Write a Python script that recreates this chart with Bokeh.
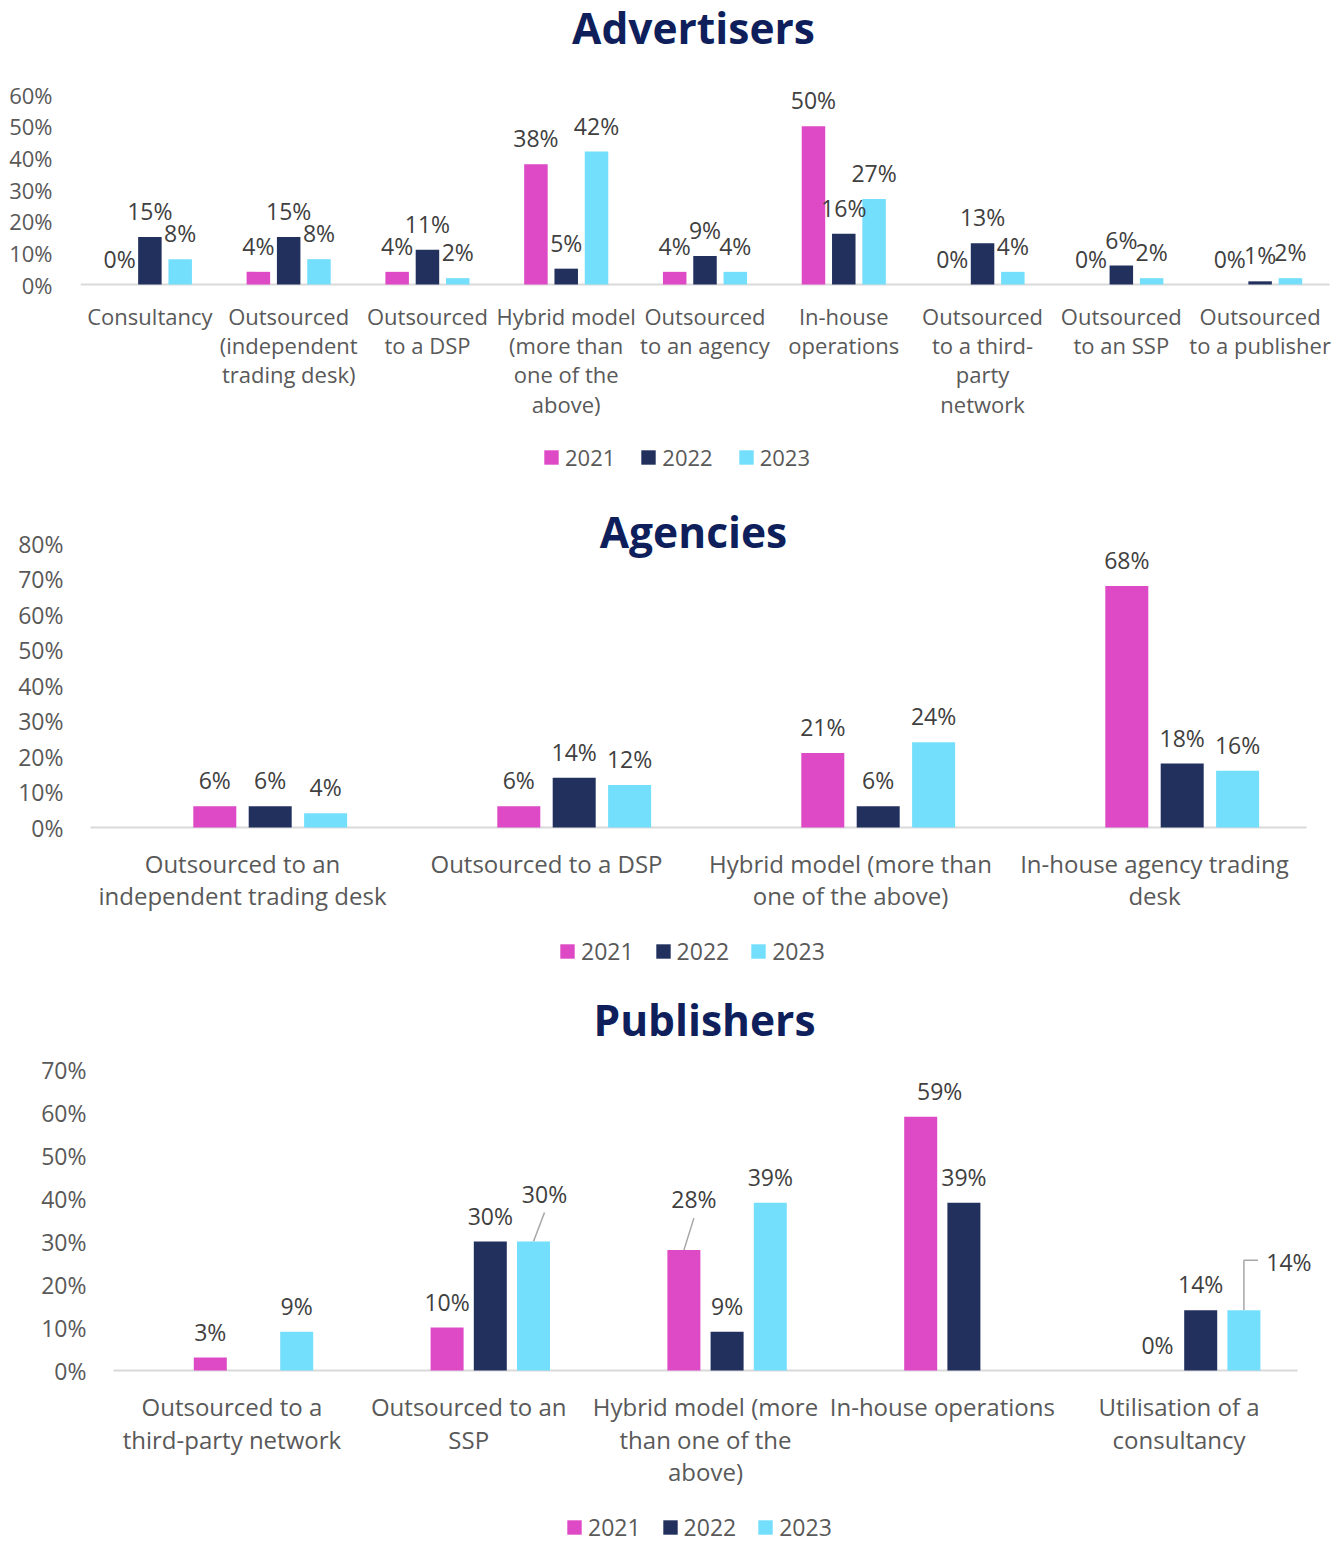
from bokeh.plotting import figure
from bokeh.models import (Range1d, ColumnDataSource, LabelSet, Label, LinearAxis,
                          Legend, LegendItem, FixedTicker, PrintfTickFormatter)
from bokeh.layouts import column
from bokeh.embed import file_html
from bokeh.resources import INLINE
from bokeh.core.properties import value

# ---------------- data ----------------
years = ["2021", "2022", "2023"]

adv_cats = ["Consultancy", "Outsourced\n(independent\ntrading desk)", "Outsourced\nto a DSP",
            "Hybrid model\n(more than\none of the\nabove)", "Outsourced\nto an agency",
            "In-house\noperations", "Outsourced\nto a third-\nparty\nnetwork",
            "Outsourced\nto an SSP", "Outsourced\nto a publisher"]
adv_2021 = [0, 4, 4, 38, 4, 50, 0, 0, 0]
adv_2022 = [15, 15, 11, 5, 9, 16, 13, 6, 1]
adv_2023 = [8, 8, 2, 42, 4, 27, 4, 2, 2]

ag_cats = ["Outsourced to an\nindependent trading desk", "Outsourced to a DSP",
           "Hybrid model (more than\none of the above)", "In-house agency trading\ndesk"]
ag_2021 = [6, 6, 21, 68]
ag_2022 = [6, 14, 6, 18]
ag_2023 = [4, 12, 24, 16]

pub_cats = ["Outsourced to a\nthird-party network", "Outsourced to an\nSSP",
            "Hybrid model (more\nthan one of the\nabove)", "In-house operations",
            "Utilisation of a\nconsultancy"]
pub_2021 = [3, 10, 28, 59, 0]
pub_2022 = [None, 30, 9, 39, 14]
pub_2023 = [9, 30, 39, None, 14]

# ---------------- style ----------------
COLORS = ["#DE49C5", "#22305E", "#74DFFC"]
FONT = "Open Sans"
AX_TEXT = "#595959"
LAB_TEXT = "#404040"
TITLE_C = "#0E1F5B"
W = 1340
L = 80          # common left border (frames aligned in the column)


def build(title, cats, series, cfg, adjust):
    n = len(cats)
    T, H = cfg["top"], cfg["H"]
    cl, cr, fb = cfg["cl"], cfg["cr"], cfg["fb"]
    pxu = cfg["pxu"]
    cat_px = (cr - cl) / n
    x0 = -(cl - L) / cat_px
    x1 = x0 + (W - L) / cat_px
    y1 = (fb - T) / pxu
    y0 = -(T + H - fb) / pxu
    p = figure(width=W, height=H, x_range=Range1d(x0, x1), y_range=Range1d(y0, y1),
               output_backend="svg", toolbar_location=None, x_axis_location=None,
               min_border_left=L, min_border_right=0, min_border_top=0, min_border_bottom=0,
               outline_line_color=None, background_fill_color="white",
               border_fill_color="white")
    p.grid.visible = False

    # baseline (category axis line)
    p.segment(x0=[0], y0=[0], x1=[n], y1=[0], line_color="#D9D9D9", line_width=2)

    items = []
    for s, (yr, vals) in enumerate(zip(years, series)):
        bx, bt, lx, ly, lt = [], [], [], [], []
        for i, v in enumerate(vals):
            if v is None:
                continue
            x = i + 0.5 + cfg["offs"][s] / cat_px
            bx.append(x)
            bt.append(v)
            dx, dy, leader = adjust.get((i, s), (0, 0, None))
            xl = x + dx / cat_px
            yl = v + (cfg["gap"] - dy) / pxu
            lx.append(xl)
            ly.append(yl)
            lt.append(f"{v}%")
            if leader == "line":
                p.segment(x0=[x], y0=[v], x1=[xl], y1=[yl - 19 / pxu],
                          line_color="#A6A6A6", line_width=1.5)
            elif leader == "elbow":
                yk = yl + 2 / pxu
                p.line(x=[x, x, x + 14 / cat_px], y=[v, yk, yk],
                       line_color="#A6A6A6", line_width=1.5)
        r = p.vbar(x="x", top="top", bottom=0, width=cfg["bar"] / cat_px,
                   source=ColumnDataSource(dict(x=bx, top=bt)),
                   fill_color=COLORS[s], line_color=None)
        items.append(LegendItem(label=yr, renderers=[r]))
        p.add_layout(LabelSet(x="x", y="y", text="t",
                              source=ColumnDataSource(dict(x=lx, y=ly, t=lt)),
                              text_align="center", text_baseline="middle",
                              text_font=value(FONT), text_font_size=f"{cfg['dfs']}px",
                              text_color=LAB_TEXT))

    # y axis
    ya = p.yaxis[0]
    ya.ticker = FixedTicker(ticks=list(range(0, cfg["ymax"] + 1, 10)))
    ya.formatter = PrintfTickFormatter(format="%d%%")
    ya.axis_line_color = None
    ya.major_tick_line_color = None
    ya.minor_tick_line_color = None
    ya.major_tick_out = 0
    ya.major_tick_in = 0
    ya.major_label_standoff = cfg["ystand"]
    ya.major_label_text_font = FONT
    ya.major_label_text_font_size = f"{cfg['tfs']}px"
    ya.major_label_text_color = AX_TEXT

    # category axes: one axis per text line, all fixed on the baseline
    split = [c.split("\n") for c in cats]
    for k in range(max(len(s) for s in split)):
        idx = [i for i, s in enumerate(split) if len(s) > k]
        ax = LinearAxis(ticker=FixedTicker(ticks=[i + 0.5 for i in idx]),
                        major_label_overrides={i + 0.5: split[i][k] for i in idx},
                        fixed_location=0, axis_line_color=None,
                        major_tick_line_color=None, minor_tick_line_color=None,
                        major_tick_in=0, major_tick_out=0,
                        major_label_standoff=int(round(cfg["s0"] + k * cfg["pitch"])),
                        major_label_text_font=FONT,
                        major_label_text_font_size=f"{cfg['cfs']}px",
                        major_label_text_color=AX_TEXT,
                        major_label_orientation="horizontal")
        p.add_layout(ax, "below")

    # title
    tx, ty = cfg["title_xy"]
    p.add_layout(Label(x=(tx - cl) / cat_px, y=(fb - ty) / pxu, text=title,
                       text_font=FONT, text_font_style="bold", text_font_size="42.5px",
                       text_color=TITLE_C, text_align="center", text_baseline="middle"))

    # legend (legend swatch is drawn at 80% of the glyph box)
    lx0, lcy = cfg["leg"]
    lh = cfg["leg_h"]
    leg = Legend(items=items, orientation="horizontal",
                 location=(lx0 - 2 - L, (T + H) - lcy - lh / 2),
                 glyph_width=18, glyph_height=18, label_standoff=5,
                 spacing=cfg["legsp"], padding=0, margin=0,
                 border_line_color=None, background_fill_alpha=0,
                 label_text_font=FONT, label_text_font_size=f"{cfg['lfs']}px",
                 label_text_color=AX_TEXT, label_height=18)
    p.add_layout(leg)
    return p


cfg_adv = dict(top=0, H=486, cl=80, cr=1329, fb=284, pxu=190 / 60, ymax=60,
               offs=[-30.3, 0, 30.3], bar=23.5, gap=26, dfs=23, tfs=22, ystand=28,
               cfs=22, s0=16, pitch=29.2, title_xy=(693, 27),
               leg=(544, 457), leg_h=30, legsp=24, lfs=22)
cfg_ag = dict(top=486, H=490, cl=90, cr=1306, fb=827, pxu=284 / 80, ymax=80,
              offs=[-27.7, 27.7, 83.1], bar=43, gap=26, dfs=23, tfs=23, ystand=17,
              cfs=24, s0=19, pitch=32, title_xy=(693, 531),
              leg=(560, 951), leg_h=31, legsp=20, lfs=23)
cfg_pub = dict(top=976, H=566, cl=113, cr=1297, fb=1370, pxu=301 / 70, ymax=70,
               offs=[-21.6, 21.6, 64.8], bar=33, gap=26, dfs=23, tfs=23, ystand=-6,
               cfs=24, s0=19, pitch=32.5, title_xy=(704, 1019),
               leg=(567, 1527), leg_h=31, legsp=20, lfs=23)

# label displacements in px: (category, series) -> (dx, dy, leader)
pub_adjust = {(1, 2): (11, -22, "line"), (2, 0): (10, -25, "line"),
              (3, 0): (19, 0, None), (4, 2): (45, -22, "elbow")}

p1 = build("Advertisers", adv_cats, [adv_2021, adv_2022, adv_2023], cfg_adv, {})
p2 = build("Agencies", ag_cats, [ag_2021, ag_2022, ag_2023], cfg_ag, {})
p3 = build("Publishers", pub_cats, [pub_2021, pub_2022, pub_2023], cfg_pub, pub_adjust)

layout = column(p1, p2, p3, spacing=0)
open("out.html", "w").write(file_html(layout, INLINE))
